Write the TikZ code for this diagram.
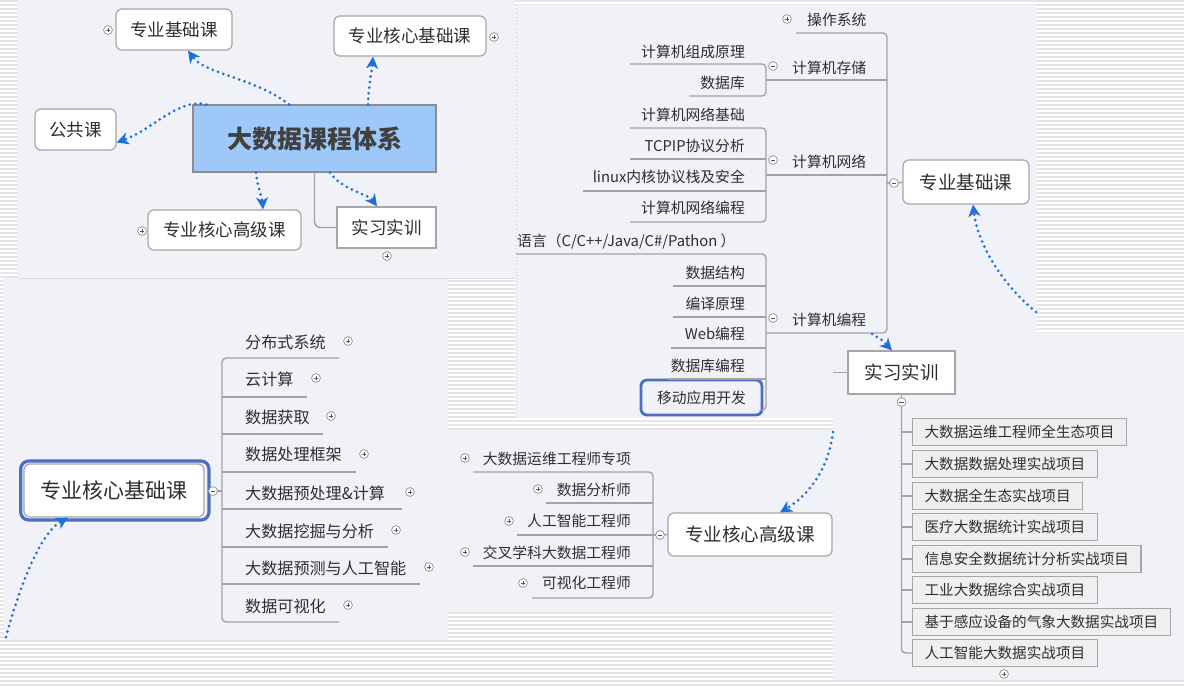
\documentclass[tikz,border=0pt]{standalone}
\usepackage{fontspec}
\setmainfont{Noto Sans CJK SC}
\usetikzlibrary{arrows.meta}
\definecolor{panelbg}{HTML}{F1F2F8}
\definecolor{stripe}{HTML}{E6E6E9}
\definecolor{tline}{HTML}{A3A3A3}
\definecolor{nborder}{HTML}{A6A6A6}
\definecolor{txt}{HTML}{2E2E2E}
\definecolor{cenfill}{HTML}{9DC8F8}
\definecolor{dotblue}{HTML}{1E6FD9}
\definecolor{selblue}{HTML}{4C6EC0}
\definecolor{taskfill}{HTML}{EFEFEF}
\definecolor{circgray}{HTML}{9A9A9A}
\definecolor{signgray}{HTML}{555555}
\begin{document}
\begin{tikzpicture}[x=1pt,y=-1pt,
  treeline/.style={draw=tline, line width=1.4pt, rounded corners=4pt},
  topic/.style={draw=nborder, line width=1.2pt, fill=white, rounded corners=6pt, text=txt, inner sep=0pt},
  sqtopic/.style={draw=nborder, line width=1.2pt, fill=white, text=txt, inner sep=0pt},
  lbl/.style={text=txt, inner sep=0pt},
  fA/.style={font=\fontsize{17.5}{20}\selectfont},
  fR/.style={font=\fontsize{18.5}{21}\selectfont},
  fB/.style={font=\fontsize{14.8}{17}\selectfont},
  fC/.style={font=\fontsize{16.1}{18}\selectfont},
  taskbox/.style={draw=nborder, line width=1.2pt, fill=taskfill, text=txt, anchor=west, inner xsep=12pt, inner ysep=0pt, minimum height=27pt, font=\fontsize{14.6}{17}\selectfont},
  dotarrow/.style={draw=dotblue, line width=3pt, dash pattern=on 0pt off 5.6pt, line cap=round, -{Stealth[length=12pt,width=12pt,inset=3.5pt]}},
  plusc/.pic={\draw[draw=circgray, fill=white, line width=0.8pt] (0,0) circle (4.4); \draw[draw=signgray, line width=0.9pt] (-2.3,0) -- (2.3,0) (0,-2.3) -- (0,2.3);},
  minusc/.pic={\draw[draw=circgray, fill=white, line width=0.8pt] (0,0) circle (4.4); \draw[draw=signgray, line width=0.9pt] (-2.3,0) -- (2.3,0);}
]
\useasboundingbox (0,0) rectangle (1184,686);
% background stripes
\fill[white] (0,0) rectangle (1184,686);
\foreach \yy in {1,5,...,686} {\draw[stripe, line width=1.5pt] (0,\yy) -- (1184,\yy);}
% panels
\fill[panelbg] (18,0) rectangle (515,278);
\fill[panelbg] (516,5) rectangle (1036,418);
\fill[panelbg] (833,333) rectangle (1184,680);
\fill[panelbg] (4,278) rectangle (448,640);
\fill[panelbg] (448,430) rectangle (833,612);
\draw[draw=black!14, line width=0.8pt] (18,278) -- (515,278);
\draw[draw=black!18, line width=0.6pt, dash pattern=on 1pt off 2pt] (516,5) -- (516,418);

% ================= Panel A =================
\node[topic, fA, minimum width=116pt, minimum height=41pt] (fundA) at (174,29.5) {专业基础课};
\node[topic, fA, minimum width=152pt, minimum height=40pt] (coreA) at (410,36) {专业核心基础课};
\node[topic, fA, minimum width=81pt, minimum height=41pt] (pubA) at (75.5,129.5) {公共课};
\node[draw=black!45, line width=1.2pt, fill=cenfill, text=black!75, inner sep=0pt, minimum width=243pt, minimum height=67pt, font=\fontsize{25}{30}\selectfont\bfseries] (cen) at (314.5,138.5) {大数据课程体系};
\node[topic, fA, minimum width=153pt, minimum height=40pt] (advA) at (224.5,230) {专业核心高级课};
\node[sqtopic, fA, minimum width=99pt, minimum height=41pt] (intA) at (386.5,227.5) {实习实训};
\draw[treeline, rounded corners=6pt] (cen.south) |- (intA.west);
\pic at (108,30) {plusc};
\pic at (494,37) {plusc};
\pic at (142,231) {plusc};
\pic at (387,256) {plusc};
\draw[dotarrow] ([xshift=-25.5pt]cen.north) .. controls (255,78) and (205,74) .. ([xshift=14pt]fundA.south);
\draw[dotarrow] ([xshift=53.5pt]cen.north) .. controls (369,82) and (372,70) .. ([xshift=-37pt]coreA.south);
\draw[dotarrow] ([xshift=14pt]cen.north west) .. controls (178,98) and (152,130) .. ([yshift=-13pt]pubA.east);
\draw[dotarrow] ([xshift=-58.5pt]cen.south) .. controls (258,190) and (262,196) .. ([xshift=38.5pt]advA.north);
\draw[dotarrow] ([xshift=15.5pt]cen.south) .. controls (342,190) and (368,194) .. ([xshift=-9.5pt]intA.north);

% ================= Panel B =================
\node[lbl, fB, anchor=west] (opsys) at (807,20) {操作系统};
\node[lbl, fB, anchor=west] (store) at (792,68) {计算机存储};
\node[lbl, fB, anchor=west] (net) at (792,162) {计算机网络};
\node[lbl, fB, anchor=west] (prog) at (792,320) {计算机编程};
\node[topic, fR, minimum width=126pt, minimum height=44pt] (fundB) at (966,182) {专业基础课};
\node[lbl, fB, anchor=east] (b1) at (745,52) {计算机组成原理};
\node[lbl, fB, anchor=east] (b2) at (745,83) {数据库};
\node[lbl, fB, anchor=east] (b3) at (745,115) {计算机网络基础};
\node[lbl, fB, anchor=east] (b4) at (745,146) {TCPIP协议分析};
\node[lbl, fB, anchor=east] (b5) at (745,177) {linux内核协议栈及安全};
\node[lbl, fB, anchor=east] (b6) at (745,208) {计算机网络编程};
\node[lbl, fB, anchor=west] (b7) at (517,241) {语言（C/C++/Java/C\#/Pathon ）};
\node[lbl, fB, anchor=east] (b8) at (745,273) {数据结构};
\node[lbl, fB, anchor=east] (b9) at (745,304) {编译原理};
\node[lbl, fB, anchor=east] (b10) at (745,334) {Web编程};
\node[lbl, fB, anchor=east] (b11) at (745,366) {数据库编程};
\node[draw=selblue, line width=2.8pt, rounded corners=6pt, text=txt, inner sep=0pt, minimum width=121pt, minimum height=35pt, font=\fontsize{14.8}{17}\selectfont] (b12) at (701.5,397.5) {移动应用开发};
% main bracket
\draw[treeline] (796,33) -- (887,33) -- (887,333) -- (766,333);
\draw[treeline] (766,80) -- (887,80);
\draw[treeline] (766,175) -- (887,175);
\draw[treeline] (887,183) -- (890,183);
\draw[treeline] (898,183) -- (fundB.west);
% storage bracket
\draw[treeline] (630,64) -- (766,64) -- (766,96) -- (689,96);
% network bracket
\draw[treeline] (630,128) -- (766,128) -- (766,222) -- (630,222);
\draw[treeline] (630,159) -- (766,159);
\draw[treeline] (583,191) -- (766,191);
% programming bracket
\draw[treeline] (516,254) -- (766,254) -- (766,410) -- (b12.east |- 0,410);
\draw[treeline] (673,286) -- (766,286);
\draw[treeline] (673,317) -- (766,317);
\draw[treeline] (671,348) -- (766,348);
\draw[treeline] (668,379) -- (766,379);
\pic at (787,19) {plusc};
\pic at (773,66) {minusc};
\pic at (773,160) {minusc};
\pic at (773,318) {minusc};
\pic at (894,183) {minusc};
\coordinate (bstart) at (1036,312);
\draw[dotarrow] (bstart) .. controls (1002,284) and (978,245) .. ([xshift=7pt]fundB.south);

% ================= Panel C =================
\node[topic, font=\fontsize{21}{24}\selectfont, minimum width=180pt, minimum height=53pt] (coreC) at (114,490.5) {专业核心基础课};
\draw[draw=selblue, line width=3.2pt, rounded corners=8pt] (20.7,461) rectangle (209,520);
\node[lbl, fC, anchor=west] (c1) at (245,342) {分布式系统};
\node[lbl, fC, anchor=west] (c2) at (245,379) {云计算};
\node[lbl, fC, anchor=west] (c3) at (245,417) {数据获取};
\node[lbl, fC, anchor=west] (c4) at (245,454) {数据处理框架};
\node[lbl, fC, anchor=west] (c5) at (245,493) {大数据预处理\&计算};
\node[lbl, fC, anchor=west] (c6) at (245,531) {大数据挖掘与分析};
\node[lbl, fC, anchor=west] (c7) at (245,568) {大数据预测与人工智能};
\node[lbl, fC, anchor=west] (c8) at (245,606) {数据可视化};
\draw[treeline] (339,358) -- (222,358) -- (222,622) -- (339,622);
\draw[treeline] (222,397) -- (307,397);
\draw[treeline] (222,434) -- (323,434);
\draw[treeline] (222,472) -- (356,472);
\draw[treeline] (222,509) -- (402,509);
\draw[treeline] (222,547) -- (388,547);
\draw[treeline] (222,584) -- (420,584);
\draw[treeline] (217,491) -- (222,491);
\pic at (213,491) {minusc};
\pic at (348,341) {plusc};
\pic at (316,378) {plusc};
\pic at (331,416) {plusc};
\pic at (364,454) {plusc};
\pic at (410,492) {plusc};
\pic at (396,530) {plusc};
\pic at (429,567) {plusc};
\pic at (348,605) {plusc};
\coordinate (cstart) at (6,637);
\draw[dotarrow] (cstart) .. controls (22,578) and (42,532) .. ([xshift=-46pt]coreC.south);

% ================= Panel D =================
\node[topic, fR, minimum width=164pt, minimum height=43pt] (advD) at (750,534.5) {专业核心高级课};
\node[lbl, fB, anchor=east] (d1) at (631,459) {大数据运维工程师专项};
\node[lbl, fB, anchor=east] (d2) at (631,490) {数据分析师};
\node[lbl, fB, anchor=east] (d3) at (631,521) {人工智能工程师};
\node[lbl, fB, anchor=east] (d4) at (631,553) {交叉学科大数据工程师};
\node[lbl, fB, anchor=east] (d5) at (631,583) {可视化工程师};
\draw[treeline] (473,472) -- (653,472) -- (653,598) -- (532,598);
\draw[treeline] (546,503) -- (653,503);
\draw[treeline] (517,535) -- (653,535);
\draw[treeline] (473,566) -- (653,566);
\draw[treeline] (653,535) -- (656,535);
\draw[treeline] (664,535) -- (advD.west);
\pic at (660,535) {minusc};
\pic at (465,458) {plusc};
\pic at (538,489) {plusc};
\pic at (509,521) {plusc};
\pic at (465,552) {plusc};
\pic at (523,583) {plusc};
\coordinate (dstart) at (833,432);
\draw[dotarrow] (dstart) .. controls (828,472) and (806,497) .. ([xshift=30pt]advD.north);

% ================= Panel E =================
\node[sqtopic, fR, minimum width=107pt, minimum height=43pt] (intE) at (901.5,372.5) {实习实训};
\node[taskbox] (e1) at (912,432) {大数据运维工程师全生态项目};
\node[taskbox] (e2) at (912,464) {大数据数据处理实战项目};
\node[taskbox] (e3) at (912,496) {大数据全生态实战项目};
\node[taskbox] (e4) at (912,527) {医疗大数据统计实战项目};
\node[taskbox] (e5) at (912,559) {信息安全数据统计分析实战项目};
\node[taskbox] (e6) at (912,590) {工业大数据综合实战项目};
\node[taskbox] (e7) at (912,622) {基于感应设备的气象大数据实战项目};
\node[taskbox] (e8) at (912,653) {人工智能大数据实战项目};
\coordinate (estub) at (833,372.5);
\draw[treeline] (estub) -- (intE.west);
\draw[treeline] (intE.south) -- (901.5,397.6);
\draw[treeline] (901.5,406.4) -- (901.5,653) -- (e8.west);
\foreach \n in {e1,e2,e3,e4,e5,e6,e7} {\draw[treeline] (901.5,0 |- \n.west) -- (\n.west);}
\pic at (901.5,402) {minusc};
\pic at (1004,674) {plusc};
\coordinate (estart) at (872,334);
\draw[dotarrow] (estart) .. controls (882,340) .. ([xshift=-9.5pt]intE.north);
\end{tikzpicture}
\end{document}
